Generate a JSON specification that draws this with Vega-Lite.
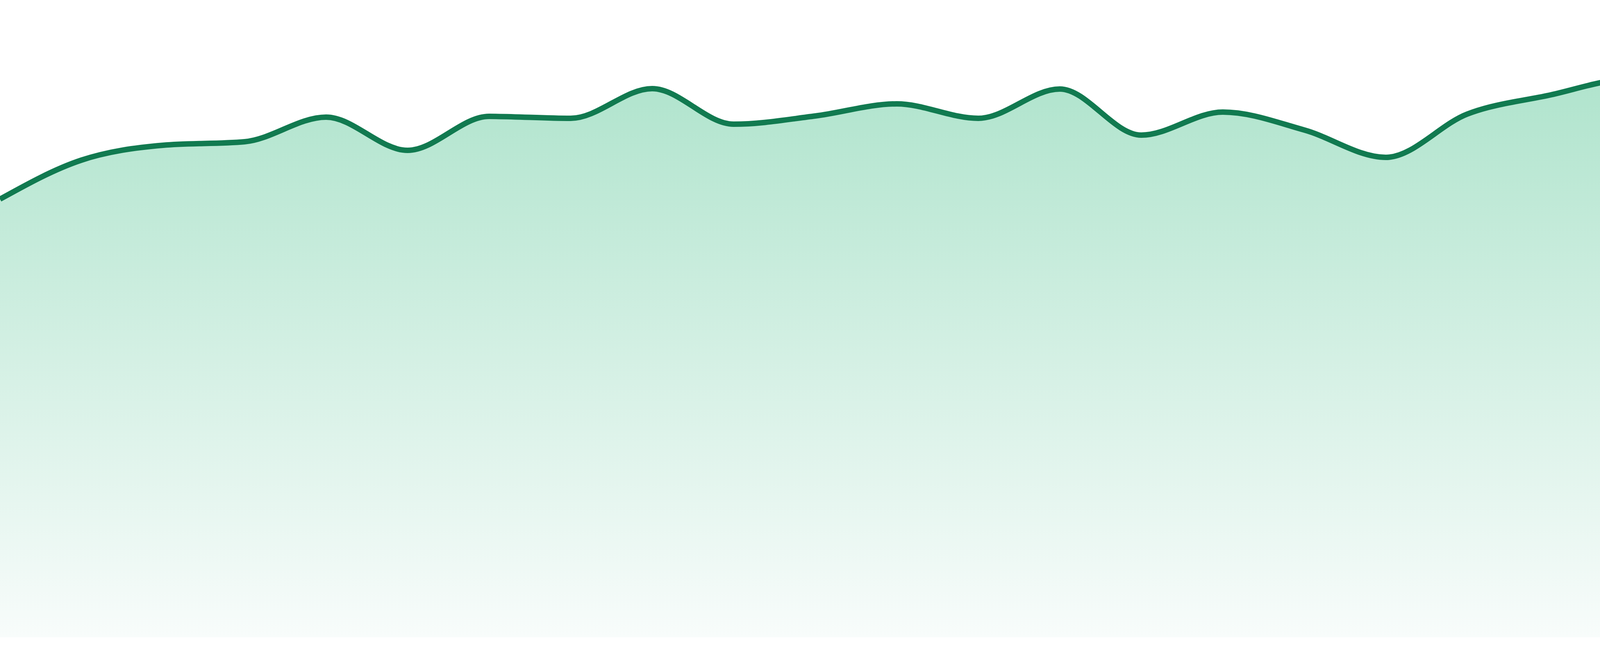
{
  "$schema": "https://vega.github.io/schema/vega-lite/v6.json",
  "width": 4800,
  "height": 1632,
  "padding": {"left": 0, "right": 0, "top": 0, "bottom": 48},
  "autosize": {"type": "none"},
  "background": "#ffffff",
  "data": {
    "values": [
      {"i": 0, "value": 1122},
      {"i": 1, "value": 1222},
      {"i": 2, "value": 1260},
      {"i": 3, "value": 1269},
      {"i": 4, "value": 1332},
      {"i": 5, "value": 1247},
      {"i": 6, "value": 1334},
      {"i": 7, "value": 1329},
      {"i": 8, "value": 1405},
      {"i": 9, "value": 1314},
      {"i": 10, "value": 1335},
      {"i": 11, "value": 1366},
      {"i": 12, "value": 1329},
      {"i": 13, "value": 1404},
      {"i": 14, "value": 1286},
      {"i": 15, "value": 1345},
      {"i": 16, "value": 1299},
      {"i": 17, "value": 1229},
      {"i": 18, "value": 1340},
      {"i": 19, "value": 1388},
      {"i": 20, "value": 1429},
      {"i": 21, "value": 1358},
      {"i": 22, "value": 1310},
      {"i": 23, "value": 1302}
    ]
  },
  "encoding": {
    "x": {
      "field": "i",
      "type": "quantitative",
      "scale": {"domain": [0, 23], "nice": false, "zero": false},
      "axis": null
    },
    "y": {
      "field": "value",
      "type": "quantitative",
      "scale": {"domain": [0, 1632], "nice": false},
      "axis": null
    }
  },
  "layer": [
    {
      "mark": {
        "type": "area",
        "interpolate": "monotone",
        "fill": {
          "gradient": "linear",
          "x1": 0, "y1": 0, "x2": 0, "y2": 1,
          "stops": [
            {"offset": 0, "color": "#b0e4cd"},
            {"offset": 1, "color": "#f8fcfb"}
          ]
        }
      }
    },
    {
      "mark": {
        "type": "line",
        "interpolate": "monotone",
        "color": "#117a50",
        "strokeWidth": 14
      }
    }
  ],
  "config": {
    "view": {"stroke": null}
  }
}
